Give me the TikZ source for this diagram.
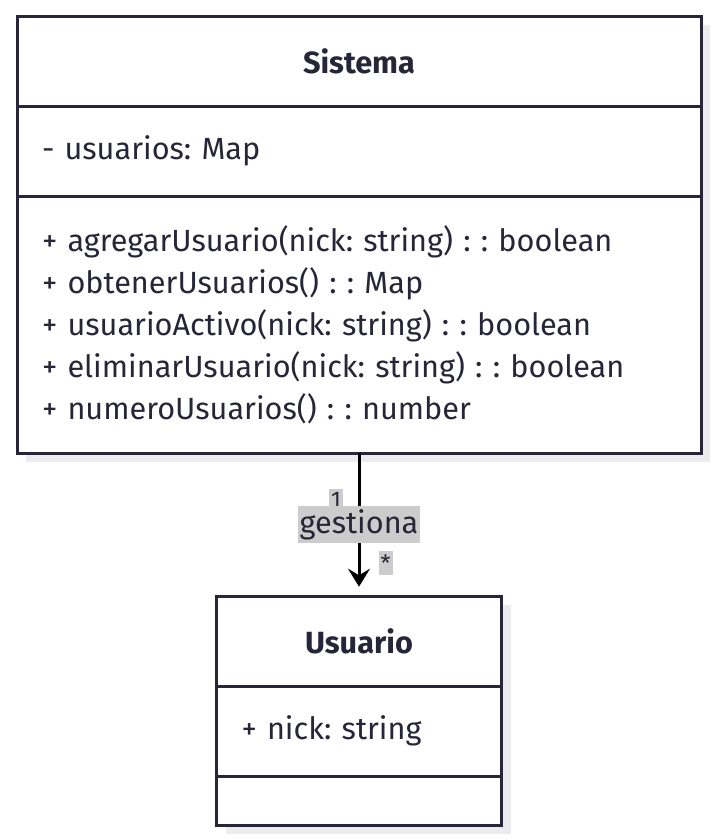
\documentclass[tikz,border=0pt]{standalone}
\usepackage{fontspec}
\setmainfont{Fira Sans}
\usetikzlibrary{positioning, shadows, arrows.meta}
\definecolor{umlInk}{RGB}{38,38,56}
\definecolor{umlShade}{RGB}{236,236,239}
\definecolor{tagGray}{RGB}{204,204,204}
\tikzstyle{classPart} = [rectangle, draw=umlInk, line width=2.25pt, fill=white, outer sep=0pt, inner xsep=18.75pt, inner ysep=0pt, text=umlInk, font=\fontsize{23}{31.5}\selectfont, drop shadow={shadow xshift=6.75pt, shadow yshift=-6.75pt, fill=umlShade, opacity=1}]
\tikzstyle{sisPart} = [classPart, minimum width=513pt, text width=475.5pt]
\tikzstyle{usrPart} = [classPart, minimum width=213.75pt, text width=176.25pt]
\tikzstyle{assoc} = [line width=2.25pt, -{Stealth[length=13.5pt, width=16.5pt, inset=5pt]}, shorten >=7pt]
\tikzstyle{tag} = [fill=tagGray, text=umlInk, inner xsep=1.5pt, inner ysep=2.5pt]

\begin{document}
\frenchspacing
\begin{tikzpicture}
        \useasboundingbox (0,0) rectangle (539.25pt,-630pt);
        \node (sisHead) [sisPart, minimum height=67.5pt, align=center] at (269.25pt,-45.75pt) {\bfseries Sistema};
        \node (sisAttr) [sisPart, minimum height=67.5pt, align=left, below=0pt of sisHead] {- usuarios: Map};
        \node (sisOps) [sisPart, minimum height=192.75pt, align=left, below=0pt of sisAttr] {+ agregarUsuario(nick: string) : : boolean\\
            + obtenerUsuarios() : : Map\\
            + usuarioActivo(nick: string) : : boolean\\
            + eliminarUsuario(nick: string) : : boolean\\
            + numeroUsuarios() : : number};

        \node (usrHead) [usrPart, minimum height=67.5pt, align=center, below=107.25pt of sisOps] {\bfseries Usuario};
        \node (usrAttr) [usrPart, minimum height=67.5pt, align=left, below=0pt of usrHead] {+ nick: string};
        \node (usrOps) [usrPart, minimum height=36.75pt, below=0pt of usrAttr] {};

        \draw [assoc] (sisOps) -- (usrHead)
            node [tag, pos=0.33, xshift=-17.25pt, font=\fontsize{17}{17}\selectfont] {1}
            node [tag, pos=0.5, font=\fontsize{23}{23}\selectfont] {gestiona}
            node [tag, pos=0.77, xshift=20pt, font=\fontsize{17}{17}\selectfont] {*};
    \end{tikzpicture}
\end{document}
